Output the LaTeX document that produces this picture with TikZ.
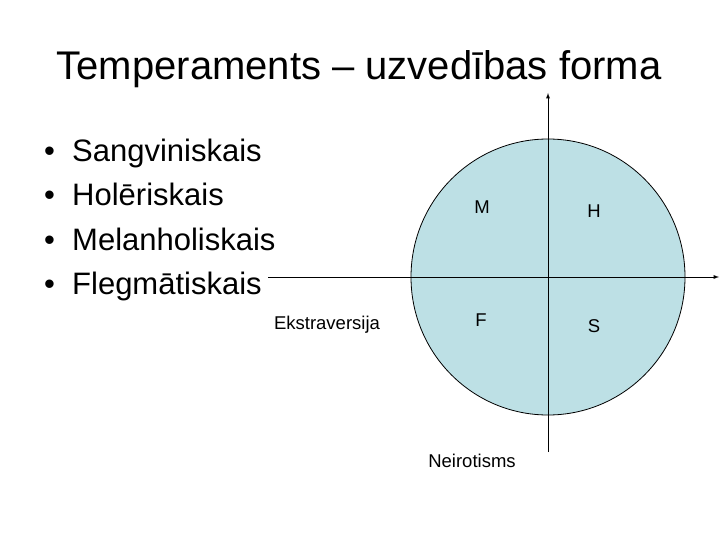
\documentclass[tikz,border=0pt]{standalone}
\usepackage{fontspec}
\setmainfont{Liberation Sans}
\usetikzlibrary{shapes.geometric}
\definecolor{circfill}{RGB}{189,224,229}
\begin{document}
\begin{tikzpicture}[x=1pt,y=-1pt,
  lbl/.style={font=\fontsize{18.5}{22}\selectfont,inner sep=0},
  bul/.style={font=\fontsize{31}{37}\selectfont,anchor=base west,inner sep=0},
  ax/.style={line width=0.9pt,-latex}]
\useasboundingbox (0,0) rectangle (720,540);
\node[font=\fontsize{40}{48}\selectfont,inner sep=0] (title) at (359,69) {Temperaments – uzvedības forma};
\foreach \t [count=\i] in {Sangviniskais,Holēriskais,Melanholiskais,Flegmātiskais}{
  \node[bul] (b\i) at (44,{162+(\i-1)*44}) {•};
  \node[bul] (t\i) at (72,{162+(\i-1)*44}) {\t};
}
\node[ellipse,draw=black,line width=0.8pt,fill=circfill,minimum width=274pt,minimum height=276pt,inner sep=0] (circ) at (548,277) {};
\coordinate (top) at (548,93);
\coordinate (bot) at (548,452);
\coordinate (lft) at (268,277);
\coordinate (rgt) at (719,277);
\draw[ax] (bot) -- (top);
\draw[ax] (lft) -- (rgt);
\node[lbl] (M) at (482,207) {M};
\node[lbl] (H) at (594,211) {H};
\node[lbl] (F) at (481,320) {F};
\node[lbl] (S) at (594,326) {S};
\node[lbl] (E) at (327,325) {Ekstraversija};
\node[lbl] (N) at (472,461) {Neirotisms};
\end{tikzpicture}
\end{document}
